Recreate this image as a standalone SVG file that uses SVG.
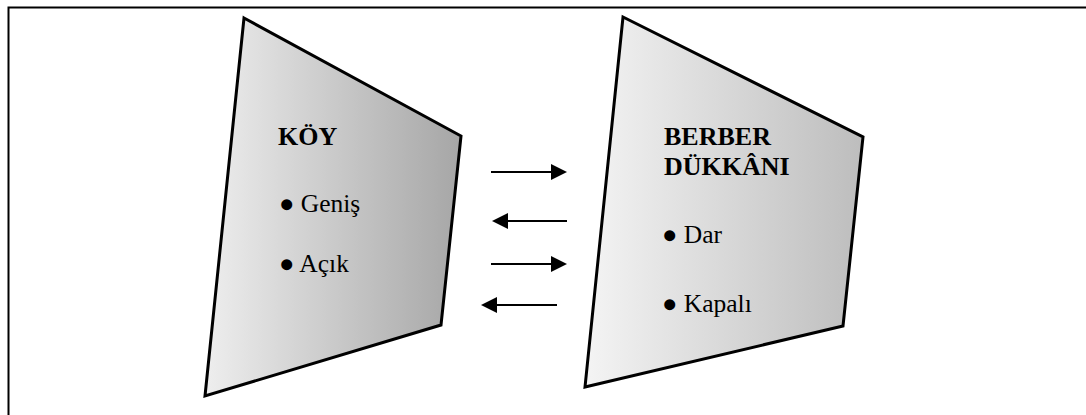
<svg xmlns="http://www.w3.org/2000/svg" width="1086" height="415" viewBox="0 0 1086 415">
  <defs>
    <linearGradient id="gLeft" x1="0" y1="0" x2="1" y2="0">
      <stop offset="0" stop-color="#eeeeee"/>
      <stop offset="1" stop-color="#a6a6a6"/>
    </linearGradient>
    <linearGradient id="gRight" x1="0" y1="0" x2="1" y2="0">
      <stop offset="0" stop-color="#f4f4f4"/>
      <stop offset="1" stop-color="#bdbdbd"/>
    </linearGradient>
    <marker id="ah" markerUnits="userSpaceOnUse" markerWidth="16" markerHeight="16" refX="5" refY="8" orient="auto">
      <path d="M0,0 L16,8 L0,16 z" fill="#000"/>
    </marker>
    <style>
      .quad { stroke: #000; stroke-width: 3; stroke-linejoin: miter; }
      .title { font-family: "Liberation Serif", "Times New Roman", serif; font-weight: bold; font-size: 26px; fill: #000; }
      .item { font-family: "Liberation Serif", "Times New Roman", serif; font-size: 25.5px; fill: #000; }
      .arrow { stroke: #000; stroke-width: 2; fill: none; marker-end: url(#ah); }
      .frame { stroke: #000; stroke-width: 2; fill: none; }
    </style>
  </defs>

  <rect width="1086" height="415" fill="#fff"/>
  <path class="frame" d="M8.5,416 L8.5,7.5 L1087,7.5"/>

  <g id="koy">
    <polygon class="quad" fill="url(#gLeft)" points="244,18 461,136 441,325 205,396"/>
    <text class="title" x="278" y="145">KÖY</text>
    <text class="item" x="279" y="212">● Geniş</text>
    <text class="item" x="279" y="272">● Açık</text>
  </g>

  <g id="berber">
    <polygon class="quad" fill="url(#gRight)" points="623,17 863,137 843,326 585,387"/>
    <text class="title" x="664" y="145">BERBER</text>
    <text class="title" x="664" y="175">DÜKKÂNI</text>
    <text class="item" x="662" y="243">● Dar</text>
    <text class="item" x="662" y="312">● Kapalı</text>
  </g>

  <g id="connectors">
    <line class="arrow" x1="491" y1="172" x2="556" y2="172"/>
    <line class="arrow" x1="567" y1="221" x2="503" y2="221"/>
    <line class="arrow" x1="491" y1="264" x2="556" y2="264"/>
    <line class="arrow" x1="557" y1="305" x2="492" y2="305"/>
  </g>
</svg>
